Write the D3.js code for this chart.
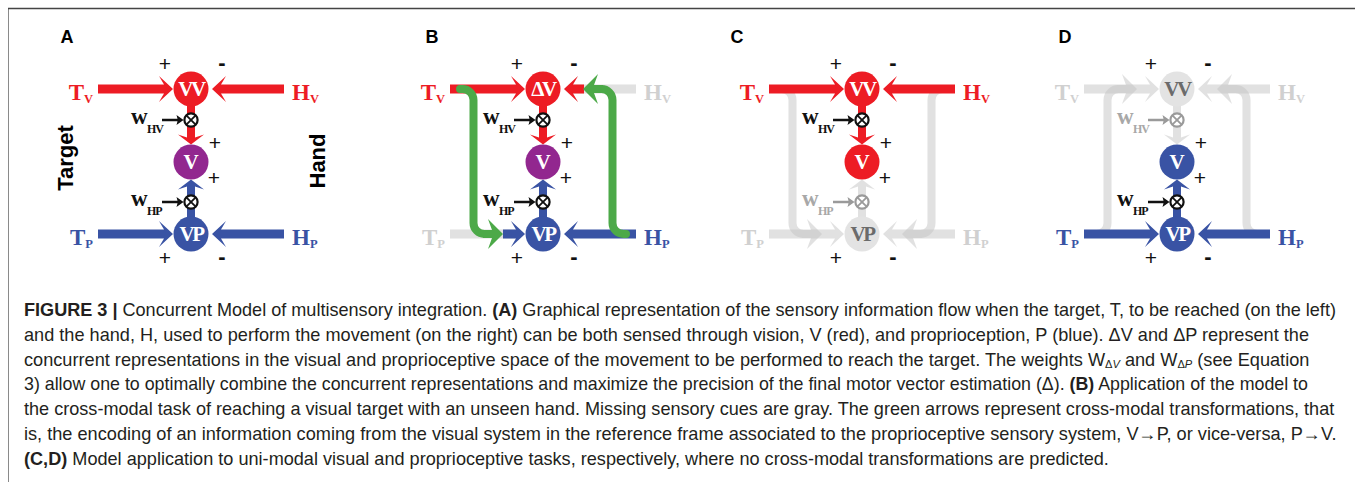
<!DOCTYPE html>
<html>
<head>
<meta charset="utf-8">
<script src="https://d3js.org/d3.v7.min.js"></script>
<style>
body {margin:0; background:#fff;}
svg {display:block;}
.serif {font-family:"Liberation Serif","Times New Roman",serif; font-weight:bold;}
.sans {font-family:"Liberation Sans",Arial,sans-serif;}
</style>
</head>
<body>
<script>
// ---- data ----
var panels   = ["A", "B", "C", "D"];
var topNode  = ["VV", "\u0394V", "VV", "VV"];
var midNode  = ["V", "V", "V", "V"];
var botNode  = ["VP", "VP", "VP", "VP"];
// r = red, b = blue, p = purple, g = gray (missing cue)
var tvLabel  = ["r", "r", "r", "g"];
var tvArrow  = ["r", "r", "r", "g"];
var hvLabel  = ["r", "g", "r", "g"];
var hvArrow  = ["r", "r", "r", "g"];
var tpLabel  = ["b", "g", "g", "b"];
var tpArrow  = ["b", "b", "g", "b"];
var hpLabel  = ["b", "b", "g", "b"];
var hpArrow  = ["b", "b", "g", "b"];
var topState = ["r", "r", "r", "g"];
var midState = ["p", "p", "r", "b"];
var botState = ["b", "b", "g", "b"];
// cross-modal transformations (left branch, right branch)
var crossLeft  = [null, "down", "down", "up"];
var crossRight = [null, "up", "down", "up"];
var crossKind  = [null, "green", "g", "g"];
var sideLabels = ["Target", "Hand"];

var captionLines = [
  [["FIGURE 3 | ", "b"], ["Concurrent Model of multisensory integration. ", "n"], ["(A)", "b"], [" Graphical representation of the sensory information flow when the target, T, to be reached (on the left)", "n"]],
  [["and the hand, H, used to perform the movement (on the right) can be both sensed through vision, V (red), and proprioception, P (blue). \u0394V and \u0394P represent the", "n"]],
  [["concurrent representations in the visual and proprioceptive space of the movement to be performed to reach the target. The weights W", "n"], ["\u0394", "sub"], ["V", "subi"], [" and W", "n"], ["\u0394", "sub"], ["P", "subi"], [" (see Equation", "n"]],
  [["3) allow one to optimally combine the concurrent representations and maximize the precision of the final motor vector estimation (\u0394). ", "n"], ["(B)", "b"], [" Application of the model to", "n"]],
  [["the cross-modal task of reaching a visual target with an unseen hand. Missing sensory cues are gray. The green arrows represent cross-modal transformations, that", "n"]],
  [["is, the encoding of an information coming from the visual system in the reference frame associated to the proprioceptive sensory system, V\u2192P, or vice-versa, P\u2192V.", "n"]],
  [["(C,D)", "b"], [" Model application to uni-modal visual and proprioceptive tasks, respectively, where no cross-modal transformations are predicted.", "n"]]
];
var captionEnds = [1337, 1310, 1310, 1309, 1336, 1337, 1110];

// ---- layout ----
var panelCx = [191, 543, 862, 1177];
var letterX = [67, 432, 737, 1065];
var yTop = 89, yMid = 162, yBot = 234, yOt1 = 120, yOt2 = 202, rNode = 17.5;

var col = {r:"#ed1c24", b:"#3953a4", p:"#92278f", g:"#c4c4c4", green:"#4ca948"};
var grayLabel = "#d0d0d0", grayCircle = "#e3e3e3", grayText = "#6b6b6b", grayOp = 0.5;

var svg = d3.select("body").append("svg").attr("width", 1355).attr("height", 482);

// frame
svg.append("path").attr("d", "M8.5,482V8.5H1355").attr("fill", "none").attr("stroke", "#8a8a8a").attr("stroke-width", 1);
svg.append("line").attr("x1", 8).attr("x2", 1355).attr("y1", 8.5).attr("y2", 8.5).attr("stroke", "#444").attr("stroke-width", 1.6);

function arrowD(len, w, hl, hw, back) {
  var b = len - hl;
  return "M0," + (-w / 2) + "L" + (b + back) + "," + (-w / 2) + "L" + b + "," + (-hw) + "L" + len + ",0L" + b + "," + hw + "L" + (b + back) + "," + (w / 2) + "L0," + (w / 2) + "Z";
}
function arrow(g, x0, y0, x1, y1, o) {
  var dx = x1 - x0, dy = y1 - y0;
  var len = Math.sqrt(dx * dx + dy * dy), ang = Math.atan2(dy, dx) * 180 / Math.PI;
  return g.append("path")
    .attr("d", arrowD(len, o.w, o.hl, o.hw, o.back))
    .attr("transform", "translate(" + x0 + "," + y0 + ") rotate(" + ang + ")")
    .attr("fill", o.fill);
}
var hArrow = {w:9, hl:14, hw:13, back:5};
var vArrow = {w:8, hl:10, hw:13, back:3};

function layer(parent, state) {
  var g = parent.append("g");
  if (state === "g") g.attr("opacity", grayOp);
  return g;
}
function opt(base, fill) { return Object.assign({}, base, {fill: fill}); }

function crossBranch(parent, cx, side, dir, kind) {
  var g = layer(parent, kind);
  var c = kind === "green" ? col.green : col.g;
  var s = side === "left" ? -1 : 1;
  var vx = cx + s * 69.5, sx = cx + s * 83, tip = cx + s * 40;
  var y0 = dir === "down" ? yTop : yBot, y1 = dir === "down" ? yBot : yTop;
  var hl = 15, base = tip + s * (hl + 2);
  var p = d3.path();
  p.moveTo(sx, y0);
  p.arcTo(vx, y0, vx, (y0 + y1) / 2, 11);
  p.arcTo(vx, y1, base, y1, 11);
  p.lineTo(base, y1);
  g.append("path").attr("d", p.toString()).attr("fill", "none")
    .attr("stroke", c).attr("stroke-width", 8).attr("stroke-linecap", "round");
  arrow(g, base + s * 3, y1, tip, y1, {w:8, hl:hl, hw:15, back:4, fill:c});
}

panels.forEach(function(name, i) {
  var cx = panelCx[i];
  var P = svg.append("g");

  // panel letter
  P.append("text").attr("class", "sans").attr("x", letterX[i]).attr("y", 43)
    .attr("text-anchor", "middle").attr("font-size", 18).attr("font-weight", "bold").text(name);

  var chans = [
    {lab:tvLabel[i], arr:tvArrow[i], y:yTop, x0:cx - 93, tip:cx - 18, mid:cx - 40},
    {lab:hvLabel[i], arr:hvArrow[i], y:yTop, x0:cx + 93, tip:cx + 21, mid:cx + 41},
    {lab:tpLabel[i], arr:tpArrow[i], y:yBot, x0:cx - 93, tip:cx - 18, mid:cx - 40},
    {lab:hpLabel[i], arr:hpArrow[i], y:yBot, x0:cx + 93, tip:cx + 21, mid:cx + 41}
  ];

  // gray pieces first
  chans.forEach(function(c) {
    if (c.lab === "g" || c.arr === "g") arrow(layer(P, "g"), c.x0, c.y, c.tip, c.y, opt(hArrow, col.g));
  });
  if (topState[i] === "g") arrow(layer(P, "g"), cx, yTop, cx, yMid - rNode, opt(vArrow, col.g));
  if (botState[i] === "g") arrow(layer(P, "g"), cx, yBot, cx, yMid + rNode, opt(vArrow, col.g));
  if (crossKind[i] === "g") {
    crossBranch(P, cx, "left", crossLeft[i], "g");
    crossBranch(P, cx, "right", crossRight[i], "g");
  }

  // coloured arrows
  chans.forEach(function(c) {
    if (c.arr === "g") return;
    var start = c.lab === "g" ? c.mid : c.x0;
    arrow(P, start, c.y, c.tip, c.y, opt(hArrow, col[c.arr]));
  });
  if (topState[i] !== "g") arrow(P, cx, yTop, cx, yMid - rNode, opt(vArrow, col[topState[i]]));
  if (botState[i] !== "g") arrow(P, cx, yBot, cx, yMid + rNode, opt(vArrow, col[botState[i]]));

  if (crossKind[i] === "green") {
    crossBranch(P, cx, "left", crossLeft[i], "green");
    crossBranch(P, cx, "right", crossRight[i], "green");
  }

  // weights and multipliers
  [[yOt1, topState[i], "HV"], [yOt2, botState[i], "HP"]].forEach(function(o) {
    var y = o[0], k = o[1] === "g" ? "#9a9a9a" : "#111";
    arrow(P, cx - 29, y, cx - 7.5, y, {w:2.6, hl:7, hw:5, back:1, fill:k});
    P.append("circle").attr("cx", cx).attr("cy", y).attr("r", 6.6)
      .attr("fill", "#fff").attr("stroke", k).attr("stroke-width", 2.2);
    var d = 4.4;
    P.append("path").attr("d", "M" + (cx - d) + "," + (y - d) + "L" + (cx + d) + "," + (y + d) + "M" + (cx + d) + "," + (y - d) + "L" + (cx - d) + "," + (y + d))
      .attr("stroke", k).attr("stroke-width", 1.8);
    var wc = o[1] === "g" ? "#a8a8a8" : "#111";
    P.append("text").attr("class", "serif").attr("x", cx - 60).attr("y", y + 4)
      .attr("font-size", 23).attr("fill", wc).text("w");
    P.append("text").attr("class", "serif").attr("x", cx - 44).attr("y", y + 13)
      .attr("font-size", 12).attr("letter-spacing", -1).attr("fill", wc).text(o[2]);
  });

  // nodes
  [[yTop, topState[i], topNode[i]], [yMid, midState[i], midNode[i]], [yBot, botState[i], botNode[i]]].forEach(function(o) {
    var gray = o[1] === "g";
    P.append("circle").attr("cx", cx).attr("cy", o[0]).attr("r", rNode)
      .attr("fill", gray ? grayCircle : col[o[1]]);
    P.append("text").attr("class", "serif").attr("x", cx).attr("y", o[0] + 7)
      .attr("text-anchor", "middle").attr("font-size", 21)
      .attr("letter-spacing", o[2].length > 1 ? -2.5 : 0)
      .attr("fill", gray ? grayText : "#fff").text(o[2]);
  });

  // side labels T/H with subscripts
  [[tvLabel[i], "T", "V", yTop, "end"], [hvLabel[i], "H", "V", yTop, "start"],
   [tpLabel[i], "T", "P", yBot, "end"], [hpLabel[i], "H", "P", yBot, "start"]].forEach(function(o) {
    var c = o[0] === "g" ? grayLabel : col[o[0]];
    var t = P.append("text").attr("class", "serif").attr("y", o[3] + 11)
      .attr("x", o[4] === "end" ? cx - 98 : cx + 101)
      .attr("text-anchor", o[4]).attr("font-size", 23).attr("fill", c);
    t.append("tspan").text(o[1]);
    t.append("tspan").attr("font-size", 12.5).attr("dy", 3).text(o[2]);
  });

  // signs
  var signs = [["+", cx - 26, 71, "normal"], ["-", cx + 31, 70, "bold"], ["+", cx - 26, 265, "normal"],
               ["-", cx + 31, 264, "bold"], ["+", cx + 24, 150, "normal"], ["+", cx + 23, 185, "normal"]];
  signs.forEach(function(s) {
    P.append("text").attr("class", "sans").attr("x", s[1]).attr("y", s[2])
      .attr("text-anchor", "middle").attr("font-size", s[3] === "bold" ? 22 : 21)
      .attr("font-weight", s[3]).attr("fill", "#111").text(s[0]);
  });
});

// Target / Hand side titles (panel A)
svg.append("text").attr("class", "sans").attr("font-size", 22).attr("font-weight", "bold")
  .attr("text-anchor", "middle").attr("transform", "translate(73,158) rotate(-90)").text(sideLabels[0]);
svg.append("text").attr("class", "sans").attr("font-size", 22).attr("font-weight", "bold")
  .attr("text-anchor", "middle").attr("transform", "translate(325,161) rotate(-90)").text(sideLabels[1]);

// caption: each line squeezed to its measured width with a horizontal scale
var cap = svg.append("g").attr("class", "sans").attr("fill", "#231f20");
captionLines.forEach(function(segs, i) {
  var t = cap.append("text").attr("x", 0).attr("y", 0).attr("font-size", 18);
  var shifted = false;
  segs.forEach(function(s) {
    var sp = t.append("tspan").text(s[0]);
    var isSub = s[1] === "sub" || s[1] === "subi";
    if (isSub && !shifted) { sp.attr("dy", 2); shifted = true; }
    if (!isSub && shifted) { sp.attr("dy", -2); shifted = false; }
    if (isSub) sp.attr("font-size", 11);
    if (s[1] === "subi") sp.attr("font-style", "italic");
    if (s[1] === "b") sp.attr("font-weight", "bold");
  });
  var k = (captionEnds[i] - 24) / t.node().getComputedTextLength();
  t.attr("transform", "translate(24," + (316 + i * 24.8) + ") scale(" + k + ",1)");
});
</script>
</body>
</html>
